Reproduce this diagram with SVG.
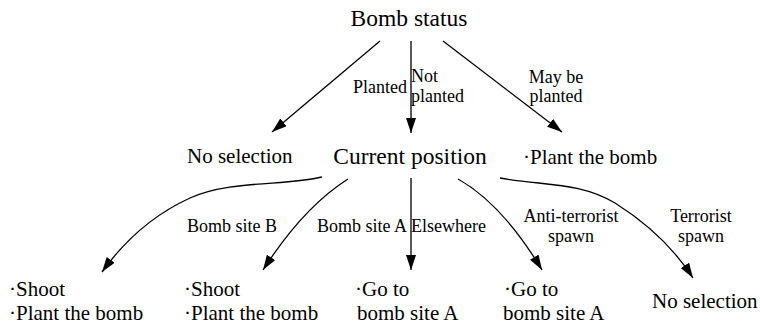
<svg xmlns="http://www.w3.org/2000/svg" width="760" height="329" viewBox="0 0 760 329">
  <defs>
    <marker id="arrow" markerUnits="userSpaceOnUse" markerWidth="16" markerHeight="12" refX="15" refY="5" orient="auto">
      <path d="M0,0 L15,5 L0,10 z" fill="#000"/>
    </marker>
    <style>
      text { font-family: "Liberation Serif", "Times New Roman", serif; fill: #000; }
      .big { font-size: 23.5px; text-anchor: middle; }
      .node { font-size: 21px; }
      .lbl { font-size: 18px; }
      .mid { text-anchor: middle; }
      .end { text-anchor: end; }
      .edge { fill: none; stroke: #000; stroke-width: 1.3; marker-end: url(#arrow); }
    </style>
  </defs>
  <rect width="760" height="329" fill="#fff"/>

  <!-- decision tree nodes -->
  <g id="bomb-status"><text class="big" x="409" y="26">Bomb status</text></g>
  <g id="no-selection-1"><text class="node" x="187" y="163">No selection</text></g>
  <g id="current-position"><text class="big" x="410" y="164">Current position</text></g>
  <g id="plant-bomb"><text class="node" x="523" y="164">·Plant the bomb</text></g>
  <g id="shoot-plant-b">
    <text class="node" x="9" y="296">·Shoot</text>
    <text class="node" x="9" y="320">·Plant the bomb</text>
  </g>
  <g id="shoot-plant-a">
    <text class="node" x="184" y="296">·Shoot</text>
    <text class="node" x="184" y="320">·Plant the bomb</text>
  </g>
  <g id="go-to-a-1">
    <text class="node" x="355" y="296">·Go to</text>
    <text class="node" x="357" y="320">bomb site A</text>
  </g>
  <g id="go-to-a-2">
    <text class="node" x="504" y="296">·Go to</text>
    <text class="node" x="503" y="320">bomb site A</text>
  </g>
  <g id="no-selection-2"><text class="node" x="652" y="308">No selection</text></g>

  <!-- connectors and their labels -->
  <g id="connectors">
    <path class="edge" d="M380,41 L272,132"/>
    <path class="edge" d="M411,41 L411,133"/>
    <path class="edge" d="M443,41 L562,132"/>
    <path class="edge" d="M322,177 C285,186 230,180 190,198 C155,214 125,240 102,272"/>
    <path class="edge" d="M348,179 C318,198 290,228 263,270"/>
    <path class="edge" d="M411,178 L411,270"/>
    <path class="edge" d="M458,179 C490,197 518,230 542,270"/>
    <path class="edge" d="M500,178 C545,186 580,182 615,203 C650,225 675,250 693,278"/>

    <text class="lbl end" x="407" y="93">Planted</text>
    <text class="lbl" x="411" y="82">Not</text>
    <text class="lbl" x="411" y="102">planted</text>
    <text class="lbl mid" x="556" y="83">May be</text>
    <text class="lbl mid" x="556" y="102">planted</text>
    <text class="lbl" x="187" y="232">Bomb site B</text>
    <text class="lbl" x="317" y="232">Bomb site A</text>
    <text class="lbl" x="411" y="232">Elsewhere</text>
    <text class="lbl mid" x="571" y="222">Anti-terrorist</text>
    <text class="lbl mid" x="571" y="242">spawn</text>
    <text class="lbl mid" x="701" y="222">Terrorist</text>
    <text class="lbl mid" x="701" y="242">spawn</text>
  </g>
</svg>
